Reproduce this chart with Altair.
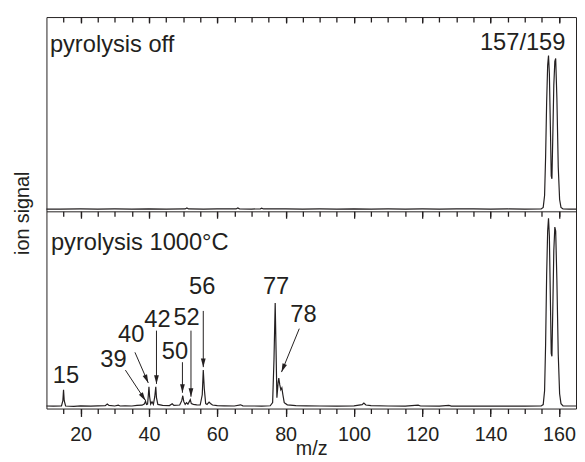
import math
import altair as alt
import pandas as pd

# ---------------- data ----------------
MZ_MIN, MZ_MAX = 10, 165
MAJOR_TICKS = [20, 40, 60, 80, 100, 120, 140, 160]
MINOR_TICKS = list(range(15, 165, 5))

# pyrolysis 1000 °C spectrum (lower panel), signal in panel units (0..200)
mz_hot = [10, 12, 14.4, 14.8, 15, 15.2, 15.6, 18, 20, 23, 25, 27.2, 27.8, 28.3, 30, 31, 31.6,
          33, 35, 36.5, 38, 38.7, 39, 39.3, 39.6, 39.8, 40, 40.2, 40.5, 40.9, 41.3, 41.7, 42,
          42.2, 42.6, 44, 46, 46.8, 47.3, 49, 49.6, 49.9, 50.2, 50.6, 51, 51.4, 51.8, 52.1,
          52.4, 53, 54, 55, 55.6, 55.9, 56.2, 56.6, 57, 57.6, 58, 58.6, 60, 62, 65, 66.8, 67.5,
          70, 73, 75.5, 76.2, 76.6, 76.95, 77.2, 77.45, 77.8, 78, 78.3, 78.6, 78.9, 79.2, 79.6,
          80.5, 83, 86, 90, 95, 100, 102.4, 102.9, 103.5, 105, 110, 115, 118.8, 119.5, 125,
          127.8, 128.5, 135, 140, 145, 150, 154.8, 155.4, 155.8, 156.1, 156.4, 156.7, 156.95,
          157.2, 157.5, 157.75, 157.95, 158.2, 158.5, 158.8, 159.05, 159.4, 159.8, 160.2,
          160.6, 161.2, 163, 165]
sig_hot = [2.6, 2.4, 2.6, 8, 19, 8, 2.6, 2.3, 2.7, 2.4, 2.8, 3.0, 4.6, 3.2, 2.6, 3.4, 2.6,
           2.8, 2.6, 3.2, 3.4, 4.8, 7.5, 4.2, 4.5, 13, 22, 12, 4.5, 7, 4.2, 12, 22,
           11, 4.2, 3.2, 3.0, 4.8, 3.2, 3.6, 8, 13, 7, 4.2, 6, 4.4, 7, 9,
           5, 4.2, 3.8, 3.6, 14, 39, 20, 5, 4.2, 6.5, 5.2, 3.6, 3.0, 2.8, 2.6, 3.8, 2.8,
           2.6, 2.5, 2.8, 6, 50, 107, 60, 11, 26, 31, 24, 19, 21, 14, 6,
           3.8, 3.0, 2.8, 2.6, 2.5, 2.8, 4.0, 5.6, 3.6, 3.0, 2.6, 2.5, 3.4, 2.6, 2.5,
           3.2, 2.5, 2.4, 2.5, 2.4, 2.5, 2.6, 4, 18, 65, 135, 180, 193,
           175, 110, 56, 53, 100, 160, 184, 180, 130, 55, 15,
           5, 2.8, 2.6, 2.6]

# pyrolysis off spectrum (upper panel), signal in panel units (0..197)
mz_off = [10, 14, 20, 25, 30, 35, 40, 45, 50.6, 51.1, 51.6, 56, 60, 65.5, 66, 66.5, 70, 72.6,
          73.0, 73.5, 80, 85, 90, 95, 100, 105, 110, 115, 120, 125, 130, 135, 140, 145, 150,
          154.8, 155.4, 155.8, 156.1, 156.4, 156.7, 156.95, 157.2, 157.5, 157.75, 157.95,
          158.2, 158.5, 158.8, 159.05, 159.4, 159.8, 160.2, 160.6, 161.2, 163, 165]
sig_off = [2.3, 2.2, 2.4, 2.2, 2.4, 2.3, 2.5, 2.3, 2.4, 3.4, 2.4, 2.3, 2.5, 2.4, 3.4, 2.5, 2.3, 2.5,
           3.2, 2.4, 2.5, 2.3, 2.4, 2.3, 2.5, 2.3, 2.4, 2.3, 2.4, 2.3, 2.5, 2.4, 2.3, 2.4, 2.3,
           2.4, 4, 16, 55, 110, 148, 158, 140, 85, 36, 33,
           75, 128, 152, 155, 115, 45, 12, 4, 2.4, 2.3, 2.3]

# panel captions
panel_text = ["pyrolysis off", "pyrolysis 1000°C"]
panel_text_mz = [11.0, 11.3]
panel_text_sig = [162, 161]
panel_of_text = ["off", "hot"]

iso_text = ["157/159"]
iso_text_mz = [161.9]
iso_text_sig = [164]

# peak labels (lower panel)
peak_text = ["15", "39", "40", "42", "50", "52", "56", "77", "78"]
peak_text_mz = [15.7, 29.6, 34.8, 42.5, 47.6, 51.0, 55.6, 77.2, 85.2]
peak_text_sig = [33, 49.3, 74.3, 89.3, 57.7, 91.7, 122.7, 122.7, 94.3]

# arrows (lower panel): from label to peak
arrow_peak = ["39", "40", "42", "50", "52", "56", "78"]
arrow_from_mz = [33.1, 35.9, 42.2, 49.8, 52.3, 55.9, 84.0]
arrow_from_sig = [39, 57, 79, 47, 79, 99, 81]
arrow_to_mz = [39.0, 39.8, 42.2, 49.8, 52.3, 55.9, 78.8]
arrow_to_sig = [8, 26, 25, 16, 12, 42, 37]

# ---------------- layout ----------------
W, H = 537, 397
H_LOW = 200               # lower panel height in px (= signal units)
PX_PER_MZ = W / (MZ_MAX - MZ_MIN)
INK = "#231f20"
FONT = "Liberation Sans"
ANN = 24
TW = 1.3

hot = pd.DataFrame({"mz": mz_hot, "signal": sig_hot})
off = pd.DataFrame({"mz": mz_off, "signal": sig_off})
captions = pd.DataFrame({"text": panel_text, "mz": panel_text_mz,
                         "signal": panel_text_sig, "panel": panel_of_text})
iso = pd.DataFrame({"text": iso_text, "mz": iso_text_mz, "signal": iso_text_sig})
peaks = pd.DataFrame({"text": peak_text, "mz": peak_text_mz, "signal": peak_text_sig})

angles = []
for fx, fy, tx, ty in zip(arrow_from_mz, arrow_from_sig, arrow_to_mz, arrow_to_sig):
    dxs = (tx - fx) * PX_PER_MZ
    dys = (fy - ty)  # screen y grows downward
    angles.append(math.degrees(math.atan2(dxs, -dys)) % 360)
arrows = pd.DataFrame({"peak": arrow_peak, "x1": arrow_from_mz, "y1": arrow_from_sig,
                       "x2": arrow_to_mz, "y2": arrow_to_sig, "angle": angles})

xscale = alt.Scale(domain=[MZ_MIN, MZ_MAX], nice=False, zero=False)
yscale = alt.Scale(domain=[0, H], nice=False, zero=False)


def xaxis(values, size, offset, labels=False, domain=False):
    return alt.Axis(orient="bottom", values=values, tickSize=size, offset=offset,
                    labels=labels, domain=domain, grid=False, tickColor=INK,
                    tickWidth=TW, domainColor=INK, domainWidth=1, title=None)


bottom_major = alt.Axis(orient="bottom", values=MAJOR_TICKS, tickSize=8, offset=0,
                        labels=True, domain=False, grid=False, tickColor=INK, tickWidth=TW,
                        labelFont=FONT, labelFontSize=20, labelColor=INK, labelPadding=8,
                        labelFlush=False, labelOverlap=False,
                        title="m/z", titleFont=FONT, titleFontSize=20,
                        titleFontWeight="normal", titleColor=INK, titleY=47,
                        titleBaseline="alphabetic")


def yaxis():
    return alt.Axis(orient="left", title="ion signal", labels=False, ticks=False,
                    domain=False, grid=False, titleFont=FONT, titleFontSize=20,
                    titleFontWeight="normal", titleColor=INK, titlePadding=14)


line_hot = alt.Chart(hot).mark_line(color=INK, strokeWidth=1.2).encode(
    x=alt.X("mz:Q", scale=xscale, axis=bottom_major),
    y=alt.Y("signal:Q", scale=yscale, axis=yaxis()),
)

line_off = alt.Chart(off).transform_calculate(
    ys=f"datum.signal + {H_LOW}"
).mark_line(color=INK, strokeWidth=1.2).encode(
    x=alt.X("mz:Q", scale=xscale, axis=xaxis(MINOR_TICKS, 5, 0)),
    y=alt.Y("ys:Q", scale=yscale, axis=yaxis()),
)

cap_layer = alt.Chart(captions).transform_calculate(
    ys=f"datum.panel == 'off' ? datum.signal + {H_LOW} : datum.signal"
).mark_text(align="left", baseline="alphabetic", font=FONT, fontSize=ANN, color=INK).encode(
    x=alt.X("mz:Q", scale=xscale, axis=xaxis(MAJOR_TICKS, 7, -H_LOW, domain=True)),
    y=alt.Y("ys:Q", scale=yscale, axis=yaxis()),
    text="text:N",
)

iso_layer = alt.Chart(iso).transform_calculate(
    ys=f"datum.signal + {H_LOW}"
).mark_text(align="right", baseline="alphabetic", font=FONT, fontSize=ANN, color=INK).encode(
    x=alt.X("mz:Q", scale=xscale, axis=None),
    y=alt.Y("ys:Q", scale=yscale, axis=yaxis()),
    text="text:N",
)

peak_layer = alt.Chart(peaks).mark_text(
    align="center", baseline="middle", font=FONT, fontSize=ANN, color=INK
).encode(
    x=alt.X("mz:Q", scale=xscale, axis=xaxis(MINOR_TICKS, 5, -H_LOW)),
    y=alt.Y("signal:Q", scale=yscale, axis=yaxis()),
    text="text:N",
)

rule_layer = alt.Chart(arrows).mark_rule(color=INK, strokeWidth=1).encode(
    x=alt.X("x1:Q", scale=xscale, axis=xaxis(MAJOR_TICKS, 6, -H)),
    y=alt.Y("y1:Q", scale=yscale, axis=yaxis()),
    x2="x2:Q",
    y2="y2:Q",
)

head_layer = alt.Chart(arrows).mark_point(
    shape="M0,0L-0.28,1L0.28,1Z", filled=True, size=300, color=INK, opacity=1,
    strokeWidth=0
).encode(
    x=alt.X("x2:Q", scale=xscale, axis=xaxis(MINOR_TICKS, 5, -H)),
    y=alt.Y("y2:Q", scale=yscale, axis=yaxis()),
    angle=alt.Angle("angle:Q", scale=None),
)

chart = alt.layer(
    line_hot, line_off, cap_layer, iso_layer, peak_layer, rule_layer, head_layer
).resolve_axis(x="independent", y="shared").properties(
    width=W, height=H,
    padding={"left": 39, "top": 6, "right": 1, "bottom": 50},
    autosize=alt.AutoSizeParams(type="none"),
    background="white",
).configure_view(stroke=INK, strokeWidth=1)

chart.save("out.html", embed_options={"renderer": "svg", "actions": False})
